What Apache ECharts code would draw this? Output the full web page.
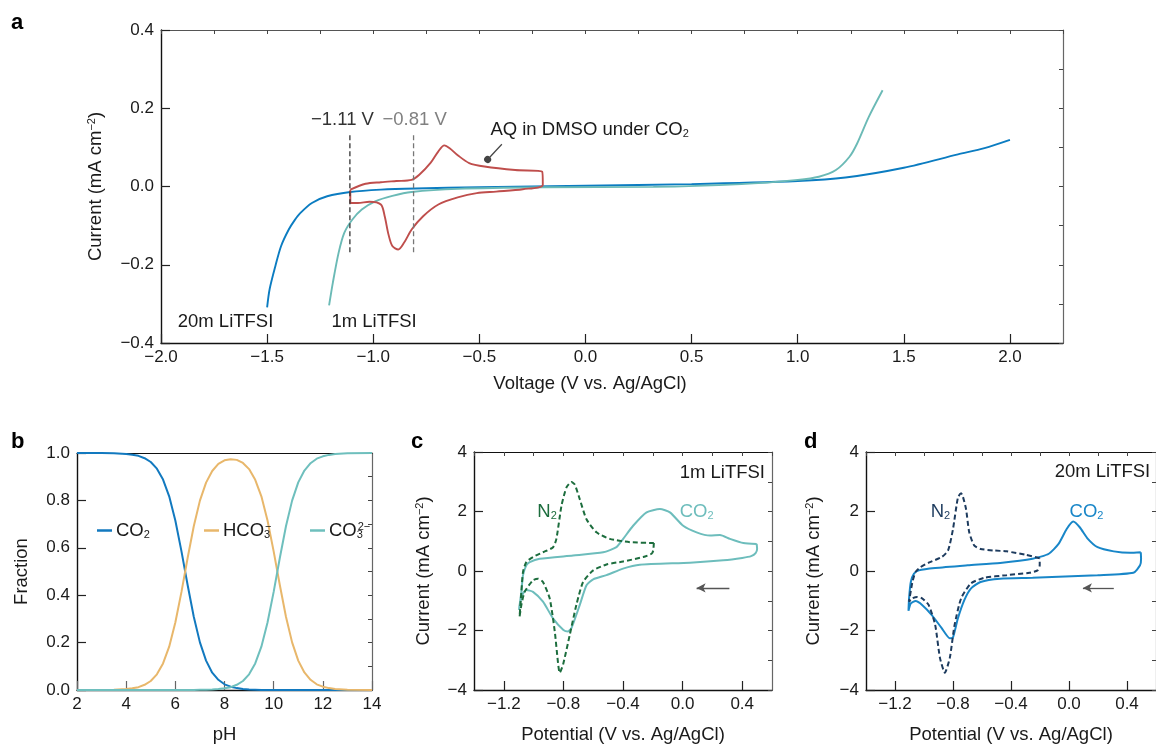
<!DOCTYPE html>
<html>
<head>
<meta charset="utf-8">
<script src="https://cdn.jsdelivr.net/npm/echarts@6/dist/echarts.min.js"></script>
<style>
  html, body { margin: 0; background: #fff; }
  #chart { width: 1156px; height: 745px; }
</style>
</head>
<body>
<div id="chart"></div>
<script>
// ---- panel a: linear sweeps and AQ CV (V vs Ag/AgCl, mA cm-2)
const sweep20m = [[-1.5, -0.309], [-1.488, -0.262], [-1.461, -0.203], [-1.434, -0.152], [-1.398, -0.11], [-1.37, -0.086], [-1.344, -0.068], [-1.289, -0.042], [-1.217, -0.025], [-1.108, -0.014], [-0.964, -0.008], [-0.8, -0.005], [-0.5, -0.002], [0, 0.002], [0.5, 0.006], [1.0, 0.014], [1.225, 0.023], [1.5, 0.048], [1.755, 0.082], [1.88, 0.098], [2.0, 0.119]];
const sweep1m = [[-1.208, -0.304], [-1.19, -0.245], [-1.163, -0.169], [-1.136, -0.118], [-1.099, -0.085], [-1.054, -0.059], [-0.991, -0.038], [-0.91, -0.024], [-0.819, -0.014], [-0.602, -0.006], [-0.204, -0.002], [0.32, -0.001], [0.735, 0.006], [1.0, 0.017], [1.1, 0.025], [1.18, 0.042], [1.244, 0.076], [1.28, 0.11], [1.335, 0.178], [1.4, 0.246]];
const aqCv = [[-1.108, -0.008], [-1.036, 0.007], [-0.964, 0.011], [-0.891, 0.014], [-0.819, 0.017], [-0.783, 0.03], [-0.729, 0.061], [-0.693, 0.09], [-0.665, 0.105], [-0.64, 0.098], [-0.602, 0.08], [-0.548, 0.06], [-0.476, 0.051], [-0.331, 0.042], [-0.204, 0.038], [-0.201, 0.004], [-0.295, -0.007], [-0.421, -0.013], [-0.512, -0.017], [-0.602, -0.028], [-0.693, -0.046], [-0.765, -0.076], [-0.819, -0.11], [-0.855, -0.144], [-0.882, -0.161], [-0.91, -0.152], [-0.928, -0.123], [-0.946, -0.076], [-0.964, -0.046], [-1.018, -0.039], [-1.072, -0.042], [-1.108, -0.042], [-1.108, -0.008]];
const markerVolts = [-1.11, -0.81];
const markerSpan = [0.131, -0.169];

// ---- panel b: carbonate speciation
const phValues = [2, 3, 3.5, 4, 4.25, 4.5, 4.75, 5, 5.25, 5.5, 5.75, 6, 6.25, 6.5, 6.75, 7, 7.25, 7.5, 7.75, 8, 8.25, 8.5, 8.75, 9, 9.25, 9.5, 9.75, 10, 10.25, 10.5, 10.75, 11, 11.25, 11.5, 11.75, 12, 12.25, 12.5, 13, 14];
const co2Fraction = [1.0, 1.0, 0.999, 0.996, 0.993, 0.988, 0.978, 0.962, 0.934, 0.888, 0.817, 0.715, 0.585, 0.443, 0.309, 0.201, 0.124, 0.073, 0.043, 0.024, 0.014, 0.008, 0.004, 0.002, 0.001, 0, 0, 0, 0, 0, 0, 0, 0, 0, 0, 0, 0, 0, 0, 0];
const hco3Fraction = [0, 0, 0.001, 0.004, 0.007, 0.012, 0.022, 0.038, 0.066, 0.112, 0.183, 0.285, 0.414, 0.557, 0.691, 0.799, 0.875, 0.924, 0.954, 0.969, 0.974, 0.971, 0.958, 0.932, 0.887, 0.817, 0.715, 0.585, 0.443, 0.309, 0.201, 0.124, 0.074, 0.043, 0.024, 0.014, 0.008, 0.004, 0.001, 0];
const co3Fraction = [0, 0, 0, 0, 0, 0, 0, 0, 0, 0, 0, 0, 0, 0, 0, 0.001, 0.001, 0.002, 0.004, 0.007, 0.012, 0.022, 0.038, 0.066, 0.112, 0.183, 0.285, 0.414, 0.557, 0.691, 0.799, 0.876, 0.926, 0.957, 0.976, 0.986, 0.992, 0.996, 0.999, 1.0];

// ---- panel c: 1m LiTFSI CVs
const cvCo2_1m = [[0.497, 0.91], [0.5, 0.75], [0.49, 0.6], [0.46, 0.5], [0.4, 0.44], [0.273, 0.36], [0.049, 0.28], [-0.287, 0.21], [-0.4, 0.08], [-0.511, -0.14], [-0.6, -0.28], [-0.645, -0.48], [-0.69, -1.14], [-0.746, -1.92], [-0.769, -2.03], [-0.8, -1.98], [-0.87, -1.59], [-0.937, -1.03], [-1.004, -0.7], [-1.049, -0.64], [-1.071, -0.76], [-1.094, -1.14], [-1.098, -1.31], [-1.082, -0.7], [-1.071, -0.14], [-1.049, 0.19], [-1.026, 0.3], [-0.959, 0.41], [-0.735, 0.52], [-0.533, 0.63], [-0.444, 0.8], [-0.399, 1.08], [-0.332, 1.52], [-0.242, 1.97], [-0.152, 2.08], [-0.085, 1.97], [0.004, 1.52], [0.094, 1.3], [0.184, 1.19], [0.251, 1.21], [0.318, 1.08], [0.408, 0.94], [0.497, 0.91]];
const cvN2_1m = [[-0.193, 0.94], [-0.354, 0.97], [-0.489, 1.08], [-0.578, 1.3], [-0.645, 1.74], [-0.69, 2.41], [-0.724, 2.91], [-0.746, 2.99], [-0.78, 2.8], [-0.813, 2.19], [-0.847, 1.08], [-0.869, 0.8], [-0.937, 0.63], [-1.004, 0.47], [-1.049, 0.3], [-1.071, -0.03], [-1.082, -0.7], [-1.094, -1.53], [-1.082, -1.14], [-1.06, -0.7], [-1.004, -0.31], [-0.97, -0.26], [-0.937, -0.37], [-0.892, -0.92], [-0.858, -2.03], [-0.836, -3.09], [-0.825, -3.42], [-0.802, -3.14], [-0.757, -2.14], [-0.713, -1.14], [-0.668, -0.37], [-0.6, 0.02], [-0.511, 0.22], [-0.399, 0.32], [-0.264, 0.47], [-0.208, 0.58], [-0.197, 0.69], [-0.193, 0.94]];
const arrow1m = [[0.314, -0.57], [0.094, -0.57]];

// ---- panel d: 20m LiTFSI CVs
const cvCo2_20m = [[0.495, 0.63], [0.497, 0.4], [0.49, 0.19], [0.444, -0.06], [0.197, -0.14], [-0.251, -0.23], [-0.475, -0.26], [-0.61, -0.37], [-0.677, -0.59], [-0.722, -0.98], [-0.766, -1.59], [-0.8, -2.23], [-0.822, -2.26], [-0.878, -1.92], [-0.946, -1.48], [-1.013, -1.14], [-1.058, -1.01], [-1.091, -1.09], [-1.107, -1.34], [-1.103, -0.92], [-1.091, -0.37], [-1.069, -0.09], [-1.035, 0.02], [-0.923, 0.1], [-0.699, 0.19], [-0.475, 0.27], [-0.251, 0.41], [-0.139, 0.58], [-0.072, 0.91], [-0.016, 1.41], [0.029, 1.66], [0.074, 1.47], [0.13, 1.08], [0.197, 0.8], [0.309, 0.66], [0.421, 0.61], [0.495, 0.63]];
const cvN2_20m = [[-0.202, 0.43], [-0.296, 0.54], [-0.43, 0.66], [-0.52, 0.69], [-0.61, 0.74], [-0.654, 0.86], [-0.688, 1.3], [-0.71, 2.08], [-0.733, 2.52], [-0.744, 2.61], [-0.766, 2.47], [-0.8, 1.41], [-0.834, 0.69], [-0.878, 0.47], [-0.968, 0.28], [-1.024, 0.13], [-1.058, -0.03], [-1.08, -0.37], [-1.103, -1.03], [-1.08, -0.92], [-1.047, -0.87], [-1.013, -0.92], [-0.968, -1.14], [-0.923, -1.81], [-0.89, -2.92], [-0.856, -3.42], [-0.822, -2.92], [-0.789, -1.81], [-0.744, -0.92], [-0.677, -0.42], [-0.587, -0.23], [-0.43, -0.14], [-0.273, -0.06], [-0.217, 0.02], [-0.202, 0.19], [-0.202, 0.43]];
const arrow20m = [[0.309, -0.57], [0.096, -0.57]];

const cvTicks = [-1.2, -0.8, -0.4, 0, 0.4];
const sweepTicks = [-2, -1.5, -1, -0.5, 0, 0.5, 1, 1.5, 2];

const font = "'Liberation Sans', Arial, Helvetica, sans-serif";
const ink = "#1a1a1a";
const tickSize = 17;
const textSize = 18.5;
const supRich = { sup: { fontSize: 11, verticalAlign: "top", lineHeight: 12 } };
const subRich = { sub: { fontSize: 11, verticalAlign: "bottom", lineHeight: 12 } };

const minus = (s) => String(s).replace("-", "\u2212");
const fmt1 = (v) => minus(Number(v).toFixed(1));
const fmt0 = (v) => minus(Math.round(v));

const grids = [
  { left: 161, top: 30, width: 902, height: 313 },
  { left: 77, top: 453, width: 295, height: 240 },
  { left: 474, top: 452, width: 298, height: 240 },
  { left: 866, top: 452, width: 297, height: 240 }
];

// bottom + top x axis, left + right y axis for one panel
function frame(g, cfg) {
  const xBottom = {
    gridIndex: g, type: "value", min: cfg.x[0], max: cfg.x[1], interval: cfg.x[2],
    name: cfg.xName, nameLocation: "middle", nameGap: cfg.xGap || 34,
    nameTextStyle: { fontFamily: font, fontSize: textSize, color: ink, padding: cfg.xNamePad || 0 },
    axisLine: { onZero: false, lineStyle: { color: "#111", width: 1.4 } },
    axisTick: { inside: true, length: 9, lineStyle: { color: cfg.tickColor || "#222", width: 1.2 }, customValues: cfg.xTicks },
    axisLabel: { fontFamily: font, fontSize: tickSize, color: ink, margin: 6, formatter: cfg.xFmt, customValues: cfg.xTicks },
    splitLine: { show: false }
  };
  const xTop = {
    gridIndex: g, type: "value", position: "top", min: cfg.x[0], max: cfg.x[1], interval: cfg.topStep || cfg.x[2],
    axisLine: { onZero: false, lineStyle: { color: cfg.topColor || "#555", width: 1 } },
    axisTick: { show: !!cfg.topStep, inside: true, length: 4, lineStyle: { color: "#444" } },
    axisLabel: { show: false }, splitLine: { show: false }
  };
  const yLeft = {
    gridIndex: g, type: "value", min: cfg.y[0], max: cfg.y[1], interval: cfg.y[2],
    name: cfg.yName, nameLocation: "middle", nameGap: cfg.yGap, nameRotate: 90,
    nameTextStyle: { fontFamily: font, fontSize: textSize, color: ink, rich: supRich },
    axisLine: { onZero: false, lineStyle: { color: "#111", width: 1.4 } },
    axisTick: { inside: true, length: 9, lineStyle: { color: "#222", width: 1.2 } },
    axisLabel: { fontFamily: font, fontSize: tickSize, color: ink, margin: 7, formatter: cfg.yFmt },
    splitLine: { show: false }
  };
  const yRight = {
    gridIndex: g, type: "value", position: "right", min: cfg.y[0], max: cfg.y[1], interval: cfg.rightStep,
    axisLine: { onZero: false, lineStyle: { color: "#666", width: 1.2 } },
    axisTick: { inside: true, length: 4, lineStyle: { color: "#444" } },
    axisLabel: { show: false }, splitLine: { show: false }
  };
  return { x: [xBottom, xTop], y: [yLeft, yRight] };
}

const frames = [
  frame(0, { x: [-2, 2.25, 0.5], y: [-0.4, 0.4, 0.2], xTicks: sweepTicks, xFmt: fmt1, yFmt: fmt1,
    xName: "Voltage (V vs. Ag/AgCl)", xNamePad: [0, 44, 0, 0], xGap: 31, yName: "Current (mA cm{sup|\u22122})", yGap: 56,
    topStep: 0.25, rightStep: 0.1 }),
  frame(1, { x: [2, 14, 2], y: [0, 1, 0.2], xFmt: fmt0, yFmt: fmt1, xName: "pH", yName: "Fraction", yGap: 46, xGap: 35,
    topColor: "#111", rightStep: 0.1, tickColor: "#666" }),
  frame(2, { x: [-1.4, 0.6, 0.2], y: [-4, 4, 2], xTicks: cvTicks, xFmt: fmt1, yFmt: fmt0,
    xName: "Potential (V vs. Ag/AgCl)", yName: "Current (mA cm{sup|\u22122})", yGap: 41, xGap: 35,
    topColor: "#111", topStep: 0.2, rightStep: 1 }),
  frame(3, { x: [-1.4, 0.6, 0.2], y: [-4, 4, 2], xTicks: cvTicks, xFmt: fmt1, yFmt: fmt0,
    xName: "Potential (V vs. Ag/AgCl)", yName: "Current (mA cm{sup|\u22122})", yGap: 43, xGap: 35,
    topColor: "#111", topStep: 0.2, rightStep: 1 })
];

function curve(g, name, data, color, extra) {
  return Object.assign({
    name, type: "line", xAxisIndex: g * 2, yAxisIndex: g * 2, data,
    symbol: "none", smooth: 0.2, animation: false,
    lineStyle: { color, width: 1.9 }, itemStyle: { color }, z: 3
  }, extra || {});
}

const zip = (xs, ys) => xs.map((x, i) => [x, ys[i]]);
const arrowMark = (pts) => ({
  silent: true, symbol: ["none", "arrow"], symbolSize: [7, 9], label: { show: false },
  lineStyle: { color: "#555", width: 1.3, type: "solid" },
  data: [[{ coord: pts[0] }, { coord: pts[1] }]]
});

const series = [
  curve(0, "20m LiTFSI", sweep20m, "#0b7cc1", { smooth: 0.3 }),
  curve(0, "1m LiTFSI", sweep1m, "#6bbab6", { smooth: 0.3 }),
  curve(0, "AQ in DMSO", aqCv, "#bf4e4c", {
    smooth: 0.3,
    markLine: {
      silent: true, symbol: ["circle", "none"], symbolSize: 7, label: { show: false },
      lineStyle: { color: "#444", width: 1.2, type: "solid" },
      itemStyle: { color: "#444" },
      data: [[{ coord: [-0.461, 0.069] }, { coord: [-0.394, 0.108] }]]
    }
  }),
  ...markerVolts.map((v, i) => curve(0, "marker" + i, [[v, markerSpan[0]], [v, markerSpan[1]]],
    i === 0 ? "#333" : "#777", { smooth: false, lineStyle: { color: i === 0 ? "#333" : "#777", width: 1.3, type: [5, 3] } })),

  curve(1, "CO2", zip(phValues, co2Fraction), "#1279bf", { smooth: false, lineStyle: { color: "#1279bf", width: 2 } }),
  curve(1, "HCO3", zip(phValues, hco3Fraction), "#e8b76b", { smooth: false, lineStyle: { color: "#e8b76b", width: 2 } }),
  curve(1, "CO3", zip(phValues, co3Fraction), "#6ebfbd", { smooth: false, lineStyle: { color: "#6ebfbd", width: 2 } }),

  curve(2, "CO2 1m", cvCo2_1m, "#6dbdbc", { lineStyle: { color: "#6dbdbc", width: 2 }, markLine: arrowMark(arrow1m) }),
  curve(2, "N2 1m", cvN2_1m, "#1c6d3d", { lineStyle: { color: "#1c6d3d", width: 2, type: [5, 3] } }),

  curve(3, "CO2 20m", cvCo2_20m, "#1886c8", { lineStyle: { color: "#1886c8", width: 2 }, markLine: arrowMark(arrow20m) }),
  curve(3, "N2 20m", cvN2_20m, "#1d3b5e", { lineStyle: { color: "#1d3b5e", width: 2, type: [5, 3] } })
];

const legendRich = {
  sub: { fontSize: 11, verticalAlign: "bottom", lineHeight: 12 },
  sb: { fontSize: 11, verticalAlign: "bottom", lineHeight: 12, width: 1 },
  sp: { fontSize: 11, verticalAlign: "top", lineHeight: 12 }
};
const legendLabels = { CO2: "CO{sub|2}", HCO3: "HCO{sb|3}{sp|\u2212}", CO3: "CO{sb|3}{sp|2\u2212}" };
const legendLeft = { CO2: 92, HCO3: 199, CO3: 305 };
const legendColors = { CO2: "#1279bf", HCO3: "#e8b76b", CO3: "#6ebfbd" };
const legends = Object.keys(legendLabels).map((k) => ({
  data: [{ name: k, icon: "rect", itemStyle: { color: legendColors[k] } }],
  left: legendLeft[k], top: 516, itemWidth: 15, itemHeight: 2.5, itemGap: 0,
  formatter: (n) => legendLabels[n],
  textStyle: { fontFamily: font, fontSize: textSize, color: ink, padding: [0, 0, 0, -1], rich: legendRich },
  selectedMode: false
}));

const chart = echarts.init(document.getElementById("chart"), null, { renderer: "canvas" });
chart.setOption({
  backgroundColor: "#fff",
  animation: false,
  grid: grids,
  xAxis: frames.flatMap((f) => f.x),
  yAxis: frames.flatMap((f) => f.y),
  legend: legends,
  series
});

// annotations anchored in data space
function at(g, x, y) {
  return chart.convertToPixel({ xAxisIndex: g * 2, yAxisIndex: g * 2 }, [x, y]);
}
function label(g, x, y, text, color, align) {
  const p = at(g, x, y);
  return {
    type: "text", x: p[0], y: p[1], silent: true, z: 10,
    style: { text, fill: color || ink, font: `${textSize}px ${font}`, align: align || "center", verticalAlign: "middle", rich: subRich }
  };
}
function panelTag(text, x, y) {
  return { type: "text", x, y, style: { text, fill: "#000", font: `bold 22px ${font}`, align: "left", verticalAlign: "top" } };
}

chart.setOption({
  graphic: [
    panelTag("a", 11, 12), panelTag("b", 11, 431), panelTag("c", 411, 431), panelTag("d", 804, 431),
    label(0, -1.145, 0.169, "\u22121.11 V", "#333"),
    label(0, -0.805, 0.169, "\u22120.81 V", "#808080"),
    label(0, -0.448, 0.144, "AQ in DMSO under CO{sub|2}", ink, "left"),
    label(0, -1.696, -0.345, "20m LiTFSI"),
    label(0, -0.996, -0.345, "1m LiTFSI"),
    label(2, -0.91, 2.0, "N{sub|2}", "#1c6d3d"),
    label(2, 0.094, 2.0, "CO{sub|2}", "#6dbdbc"),
    label(2, 0.553, 3.3, "1m LiTFSI", ink, "right"),
    label(3, -0.887, 2.0, "N{sub|2}", "#1d3b5e"),
    label(3, 0.121, 1.97, "CO{sub|2}", "#1886c8"),
    label(3, -0.099, 3.33, "20m LiTFSI", ink, "left")
  ]
});
</script>
</body>
</html>
